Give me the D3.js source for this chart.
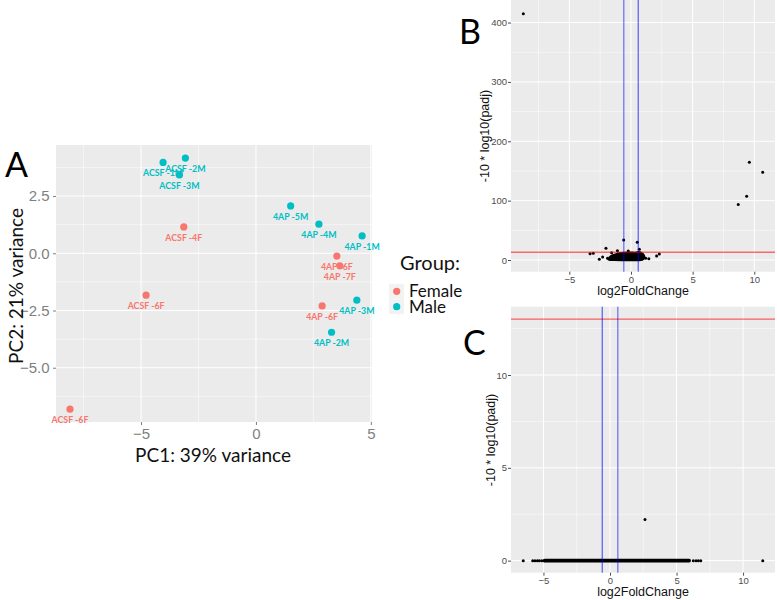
<!DOCTYPE html>
<html><head><meta charset="utf-8">
<script src="https://cdn.jsdelivr.net/npm/d3@7"></script>
<style>body{margin:0;background:#fff}svg{display:block}</style>
</head><body>
<svg id="c" width="777" height="600"></svg>
<script>
// ---------- Panel A: PCA ----------
const pcaSamples = ["ACSF -1M","ACSF -2M","ACSF -3M","ACSF -4F","ACSF -6F","ACSF -6F","4AP -5M","4AP -4M","4AP -1M","4AP -6F","4AP -7F","4AP -3M","4AP -6F","4AP -2M"];
const pcaGroup   = ["Male","Male","Male","Female","Female","Female","Male","Male","Male","Female","Female","Male","Female","Male"];
const pc1Values  = [-4.04,-3.07,-3.33,-3.14,-4.78,-8.09,1.51,2.74,4.62,3.52,3.65,4.39,2.88,3.29];
const pc2Values  = [3.97,4.16,3.42,1.15,-1.83,-6.81,2.07,1.27,0.76,-0.12,-0.55,-2.05,-2.30,-3.45];
const groupNames = ["Female","Male"];
const groupColors = ["#F8766D","#00BFC4"];
const aXTicks = [-5,0,5];
const aYTicks = [-5.0,-2.5,0.0,2.5];

// ---------- Panel B: volcano ----------
const bLog2FC = [-8.73,9.6,10.68,9.38,8.7,-2.03,-0.59,0.51,-3.32,-3.06,-2.57,2.08,2.3,0.68,-0.22,-1.1,-1.57,-1.9,1.2,1.45,-2.3];
const bPadj   = [414.8,164.7,147.9,107.4,93.3,19.7,33.7,29.8,10.6,11.3,1.2,6.7,10.1,18,15.2,15.7,12.3,3,3,2,5];
// dense cloud of genes near the origin (outline, log2FC / -10*log10 padj)
const bCloudX = [-1.8,-1.7,-1.5,-1.2,-0.9,-0.5,-0.1,0.3,0.6,0.85,1.0,1.05,0.9,0.5,-0.5,-1.4];
const bCloudY = [1.5,4,7,9,10.5,11.5,12,11.5,12.5,11,8,4,1.2,0.6,0.6,0.8];
const bXTicks = [-5,0,5,10];
const bYTicks = [0,100,200,300,400];

// ---------- Panel C: volcano ----------
const cLog2FC = [-6.52,-5.81,-5.64,-5.46,-5.31,-5.13,-4.96,6.26,6.47,6.64,6.82,11.48,2.63];
const cPadj   = [0,0,0,0,0,0,0,0,0,0,0,0,2.21];
const cDenseFrom = [-4.9];   // continuous run of genes at padj value 0
const cDenseTo   = [5.95];
const cXTicks = [-5,0,5,10];
const cYTicks = [0,5,10];

const lfcCut = [-0.585, 0.585];
const padjCut = [13.01];

const svg = d3.select("#c");
svg.append("rect").attr("width",777).attr("height",600).attr("fill","#fff");
const SANS = "Liberation Sans, Arial, sans-serif";
const CAL = "Lato, sans-serif";

function panelGrid(g, x, y, xMaj, yMaj, xMin, yMin){
  const [x0,x1] = x.range(), [y1,y0] = y.range();
  g.append("rect").attr("x",x0).attr("y",y0).attr("width",x1-x0).attr("height",y1-y0).attr("fill","#EBEBEB");
  xMin.filter(v=>v>=x.domain()[0]&&v<=x.domain()[1]).forEach(v=>g.append("line").attr("x1",x(v)).attr("x2",x(v)).attr("y1",y0).attr("y2",y1).attr("stroke","#fff").attr("stroke-width",0.5));
  yMin.filter(v=>v>=y.domain()[0]&&v<=y.domain()[1]).forEach(v=>g.append("line").attr("y1",y(v)).attr("y2",y(v)).attr("x1",x0).attr("x2",x1).attr("stroke","#fff").attr("stroke-width",0.5));
  xMaj.forEach(v=>g.append("line").attr("x1",x(v)).attr("x2",x(v)).attr("y1",y0).attr("y2",y1).attr("stroke","#fff").attr("stroke-width",1));
  yMaj.forEach(v=>g.append("line").attr("y1",y(v)).attr("y2",y(v)).attr("x1",x0).attr("x2",x1).attr("stroke","#fff").attr("stroke-width",1));
}
function axes(g, x, y, xt, yt, fs, col, fmtY, padX, padY){
  const [x0] = x.range(), [y1] = y.range();
  const ax = g.append("g").attr("transform",`translate(0,${y1})`)
    .call(d3.axisBottom(x).tickValues(xt).tickSize(3).tickPadding(padX).tickFormat(d3.format("d")));
  const ay = g.append("g").attr("transform",`translate(${x0},0)`)
    .call(d3.axisLeft(y).tickValues(yt).tickSize(3).tickPadding(padY).tickFormat(fmtY));
  [ax,ay].forEach(a=>{
    a.select(".domain").remove();
    a.selectAll("line").attr("stroke",col);
    a.selectAll("text").attr("fill",col).attr("font-size",fs).attr("font-family",SANS);
  });
  return [ax,ay];
}

// ---- A ----
const xA = d3.scaleLinear().domain([-8.7,5.05]).range([56,372]);
const yA = d3.scaleLinear().domain([-7.37,4.73]).range([422,145]);
const gA = svg.append("g");
panelGrid(gA,xA,yA,aXTicks,aYTicks,[-7.5,-2.5,2.5],[-6.25,-3.75,-1.25,1.25,3.75]);
axes(gA,xA,yA,aXTicks,aYTicks,15,"#7F7F7F",d3.format(".1f"),3,3.5);
const col = d3.scaleOrdinal().domain(groupNames).range(groupColors);
const pts = pcaSamples.map((s,i)=>({s,g:pcaGroup[i],x:pc1Values[i],y:pc2Values[i]}));
gA.selectAll("circle.p").data(pts).join("circle").attr("class","p")
  .attr("cx",d=>xA(d.x)).attr("cy",d=>yA(d.y)).attr("r",3.6).attr("fill",d=>col(d.g));
gA.selectAll("text.lab").data(pts).join("text").attr("class","lab")
  .attr("x",d=>xA(d.x)).attr("y",d=>yA(d.y)+14).attr("text-anchor","middle")
  .attr("font-family",CAL).attr("font-weight","bold").attr("font-size",8.8)
  .attr("fill",d=>col(d.g)).text(d=>d.s);
gA.append("text").attr("x",213).attr("y",462).attr("text-anchor","middle")
  .attr("font-family",CAL).attr("font-size",19).attr("fill","#111").text("PC1: 39% variance");
gA.append("text").attr("transform","translate(23,286) rotate(-90)").attr("text-anchor","middle")
  .attr("font-family",CAL).attr("font-size",19).attr("fill","#111").text("PC2: 21% variance");
gA.append("text").attr("x",5).attr("y",177).attr("font-family",CAL).attr("font-size",34).attr("fill","#000").text("A");
// legend
const lg = svg.append("g");
lg.append("text").attr("x",400).attr("y",270).attr("font-family",CAL).attr("font-size",20).attr("fill","#111").text("Group:");
groupNames.forEach((n,i)=>{
  const cy = 291.3 + i*15.4;
  lg.append("rect").attr("x",389).attr("y",cy-7.5).attr("width",15).attr("height",15).attr("fill","#F2F2F2");
  lg.append("circle").attr("cx",396.7).attr("cy",cy).attr("r",3.6).attr("fill",groupColors[i]);
  lg.append("text").attr("x",409).attr("y",cy+6).attr("font-family",CAL).attr("font-size",17).attr("fill","#111").text(n);
});

// ---- B ----
const xB = d3.scaleLinear().domain([-9.73,11.68]).range([511,775]);
const yB = d3.scaleLinear().domain([-19.7,438]).range([271.7,0]);
const gB = svg.append("g");
panelGrid(gB,xB,yB,bXTicks,bYTicks,[-7.5,-2.5,2.5,7.5],[50,150,250,350]);
axes(gB,xB,yB,bXTicks,bYTicks,9.5,"#4D4D4D",d3.format("d"),2,1);
const cloud = bCloudX.map((v,i)=>[xB(v),yB(bCloudY[i])]);
gB.append("path").attr("d",d3.line().curve(d3.curveCatmullRomClosed)(cloud))
  .attr("fill","#000").attr("stroke","#000").attr("stroke-width",3).attr("stroke-linejoin","round");
gB.selectAll("circle.v").data(bLog2FC.map((v,i)=>[v,bPadj[i]])).join("circle").attr("class","v")
  .attr("cx",d=>xB(d[0])).attr("cy",d=>yB(d[1])).attr("r",1.5).attr("fill","#000");
gB.append("line").attr("x1",511).attr("x2",775).attr("y1",yB(padjCut[0])).attr("y2",yB(padjCut[0])).attr("stroke","#FF0000").attr("stroke-opacity",0.55).attr("stroke-width",1.5);
gB.append("line").attr("x1",xB(lfcCut[0])).attr("x2",xB(lfcCut[0])).attr("y1",0).attr("y2",271.7).attr("stroke","#0000FF").attr("stroke-opacity",0.45).attr("stroke-width",1.5);
gB.append("line").attr("x1",xB(lfcCut[1])).attr("x2",xB(lfcCut[1])).attr("y1",0).attr("y2",271.7).attr("stroke","#0000FF").attr("stroke-opacity",0.75).attr("stroke-width",1);
gB.append("text").attr("x",643).attr("y",294.5).attr("text-anchor","middle").attr("font-family",SANS).attr("font-size",12.5).attr("fill","#111").text("log2FoldChange");
gB.append("text").attr("transform","translate(489,136) rotate(-90)").attr("text-anchor","middle").attr("font-family",SANS).attr("font-size",12.5).attr("fill","#111").text("-10 * log10(padj)");
gB.append("text").attr("x",459).attr("y",44).attr("font-family",CAL).attr("font-size",34).attr("fill","#000").text("B");

// ---- C ----
const xC = d3.scaleLinear().domain([-7.44,12.4]).range([511,775]);
const yC = d3.scaleLinear().domain([-0.65,13.68]).range([572.7,306.7]);
const gC = svg.append("g");
panelGrid(gC,xC,yC,cXTicks,cYTicks,[-7.5,-2.5,2.5,7.5,12.5],[2.5,7.5,12.5]);
axes(gC,xC,yC,cXTicks,cYTicks,9.5,"#4D4D4D",d3.format("d"),1.5,1);
cDenseFrom.forEach((f,i)=>gC.append("line").attr("x1",xC(f)).attr("x2",xC(cDenseTo[i])).attr("y1",yC(0)).attr("y2",yC(0))
  .attr("stroke","#000").attr("stroke-width",3.6).attr("stroke-linecap","round"));
gC.selectAll("circle.v").data(cLog2FC.map((v,i)=>[v,cPadj[i]])).join("circle").attr("class","v")
  .attr("cx",d=>xC(d[0])).attr("cy",d=>yC(d[1])).attr("r",1.5).attr("fill","#000");
gC.append("line").attr("x1",511).attr("x2",775).attr("y1",yC(padjCut[0])).attr("y2",yC(padjCut[0])).attr("stroke","#FF0000").attr("stroke-opacity",0.6).attr("stroke-width",1.2);
gC.append("line").attr("x1",xC(lfcCut[0])).attr("x2",xC(lfcCut[0])).attr("y1",306.7).attr("y2",572.7).attr("stroke","#0000FF").attr("stroke-opacity",0.75).attr("stroke-width",1);
gC.append("line").attr("x1",xC(lfcCut[1])).attr("x2",xC(lfcCut[1])).attr("y1",306.7).attr("y2",572.7).attr("stroke","#0000FF").attr("stroke-opacity",0.45).attr("stroke-width",1.5);
gC.append("text").attr("x",643).attr("y",595.5).attr("text-anchor","middle").attr("font-family",SANS).attr("font-size",12.5).attr("fill","#111").text("log2FoldChange");
gC.append("text").attr("transform","translate(495,440) rotate(-90)").attr("text-anchor","middle").attr("font-family",SANS).attr("font-size",12.5).attr("fill","#111").text("-10 * log10(padj)");
gC.append("text").attr("x",463).attr("y",355).attr("font-family",CAL).attr("font-size",34).attr("fill","#000").text("C");
</script>
</body></html>
